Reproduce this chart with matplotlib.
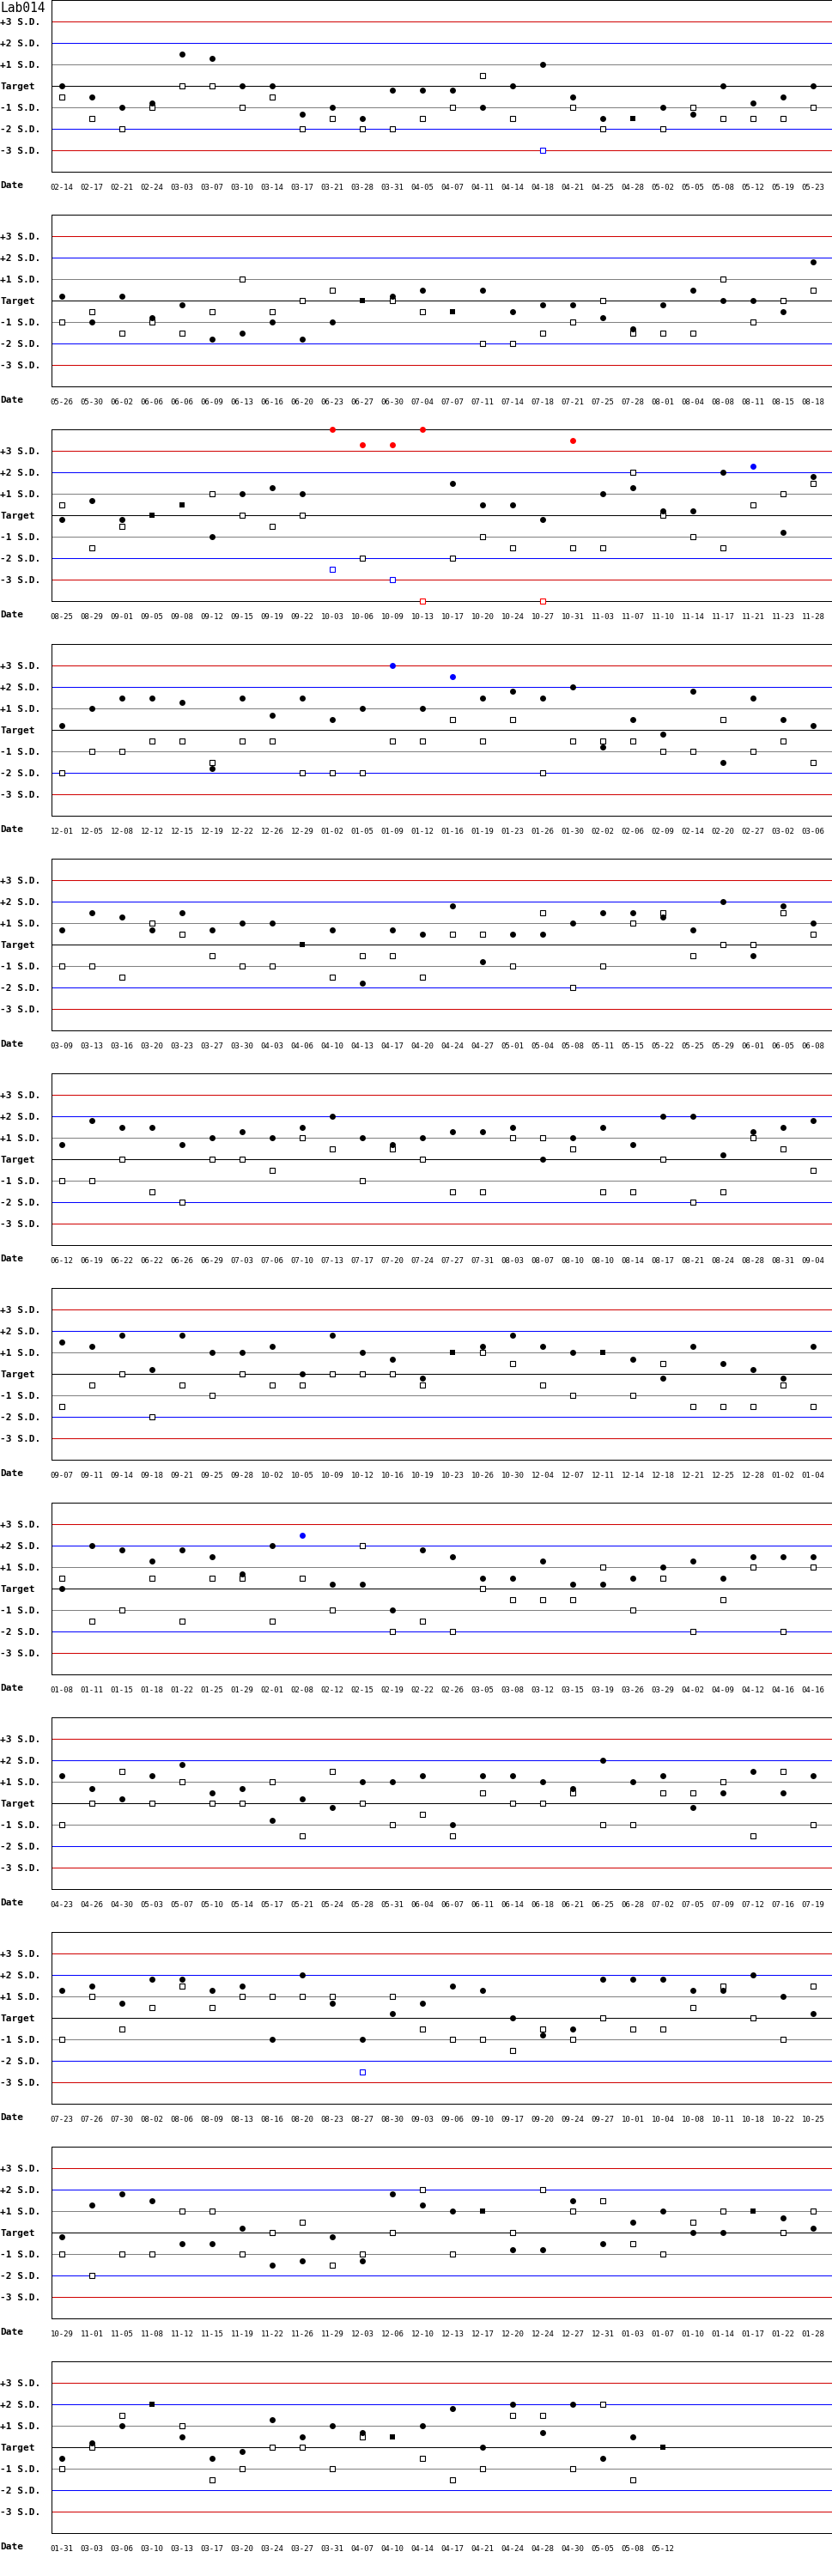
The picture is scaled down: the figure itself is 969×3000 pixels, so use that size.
import math

import matplotlib

matplotlib.use("Agg")
import matplotlib.pyplot as plt

plt.rcParams["font.family"] = ["DejaVu Sans Mono"]

TITLE = "Lab014"
SD_LEVELS = [3, 2, 1, 0, -1, -2, -3]
SD_LABELS = ["+3 S.D.", "+2 S.D.", "+1 S.D.", "Target", "-1 S.D.", "-2 S.D.", "-3 S.D."]
SD_COLORS = ["#d00000", "#0000ff", "#808080", "#000000", "#808080", "#0000ff", "#d00000"]

# run dates (MM-DD), 26 per row
DATES = [
    "02-14", "02-17", "02-21", "02-24", "03-03", "03-07", "03-10", "03-14", "03-17", "03-21", "03-28", "03-31", "04-05",
    "04-07", "04-11", "04-14", "04-18", "04-21", "04-25", "04-28", "05-02", "05-05", "05-08", "05-12", "05-19", "05-23",
    "05-26", "05-30", "06-02", "06-06", "06-06", "06-09", "06-13", "06-16", "06-20", "06-23", "06-27", "06-30", "07-04",
    "07-07", "07-11", "07-14", "07-18", "07-21", "07-25", "07-28", "08-01", "08-04", "08-08", "08-11", "08-15", "08-18",
    "08-25", "08-29", "09-01", "09-05", "09-08", "09-12", "09-15", "09-19", "09-22", "10-03", "10-06", "10-09", "10-13",
    "10-17", "10-20", "10-24", "10-27", "10-31", "11-03", "11-07", "11-10", "11-14", "11-17", "11-21", "11-23", "11-28",
    "12-01", "12-05", "12-08", "12-12", "12-15", "12-19", "12-22", "12-26", "12-29", "01-02", "01-05", "01-09", "01-12",
    "01-16", "01-19", "01-23", "01-26", "01-30", "02-02", "02-06", "02-09", "02-14", "02-20", "02-27", "03-02", "03-06",
    "03-09", "03-13", "03-16", "03-20", "03-23", "03-27", "03-30", "04-03", "04-06", "04-10", "04-13", "04-17", "04-20",
    "04-24", "04-27", "05-01", "05-04", "05-08", "05-11", "05-15", "05-22", "05-25", "05-29", "06-01", "06-05", "06-08",
    "06-12", "06-19", "06-22", "06-22", "06-26", "06-29", "07-03", "07-06", "07-10", "07-13", "07-17", "07-20", "07-24",
    "07-27", "07-31", "08-03", "08-07", "08-10", "08-10", "08-14", "08-17", "08-21", "08-24", "08-28", "08-31", "09-04",
    "09-07", "09-11", "09-14", "09-18", "09-21", "09-25", "09-28", "10-02", "10-05", "10-09", "10-12", "10-16", "10-19",
    "10-23", "10-26", "10-30", "12-04", "12-07", "12-11", "12-14", "12-18", "12-21", "12-25", "12-28", "01-02", "01-04",
    "01-08", "01-11", "01-15", "01-18", "01-22", "01-25", "01-29", "02-01", "02-08", "02-12", "02-15", "02-19", "02-22",
    "02-26", "03-05", "03-08", "03-12", "03-15", "03-19", "03-26", "03-29", "04-02", "04-09", "04-12", "04-16", "04-16",
    "04-23", "04-26", "04-30", "05-03", "05-07", "05-10", "05-14", "05-17", "05-21", "05-24", "05-28", "05-31", "06-04",
    "06-07", "06-11", "06-14", "06-18", "06-21", "06-25", "06-28", "07-02", "07-05", "07-09", "07-12", "07-16", "07-19",
    "07-23", "07-26", "07-30", "08-02", "08-06", "08-09", "08-13", "08-16", "08-20", "08-23", "08-27", "08-30", "09-03",
    "09-06", "09-10", "09-17", "09-20", "09-24", "09-27", "10-01", "10-04", "10-08", "10-11", "10-18", "10-22", "10-25",
    "10-29", "11-01", "11-05", "11-08", "11-12", "11-15", "11-19", "11-22", "11-26", "11-29", "12-03", "12-06", "12-10",
    "12-13", "12-17", "12-20", "12-24", "12-27", "12-31", "01-03", "01-07", "01-10", "01-14", "01-17", "01-22", "01-28",
    "01-31", "03-03", "03-06", "03-10", "03-13", "03-17", "03-20", "03-24", "03-27", "03-31", "04-07", "04-10", "04-14",
    "04-17", "04-21", "04-24", "04-28", "04-30", "05-05", "05-08", "05-12",
]

# control level 1 (dots), in S.D. from target
LEVEL1 = [
    0, -0.5, -1.0, -0.8, 1.5, 1.3, 0, 0, -1.3, -1.0, -1.5, -0.2, -0.2, -0.2, -1.0, 0, 1.0, -0.5, -1.5, -1.5, -1.0, -1.3, 0, -0.8, -0.5, 0,
    0.2, -1.0, 0.2, -0.8, -0.2, -1.8, -1.5, -1.0, -1.8, -1.0, 0, 0.2, 0.5, -0.5, 0.5, -0.5, -0.2, -0.2, -0.8, -1.3, -0.2, 0.5, 0, 0, -0.5, 1.8,
    -0.2, 0.7, -0.2, 0, 0.5, -1.0, 1.0, 1.3, 1.0, 4.0, 3.3, 3.3, 4.0, 1.5, 0.5, 0.5, -0.2, 3.5, 1.0, 1.3, 0.2, 0.2, 2.0, 2.3, -0.8, 1.8,
    0.2, 1.0, 1.5, 1.5, 1.3, -1.8, 1.5, 0.7, 1.5, 0.5, 1.0, 3.0, 1.0, 2.5, 1.5, 1.8, 1.5, 2.0, -0.8, 0.5, -0.2, 1.8, -1.5, 1.5, 0.5, 0.2,
    0.7, 1.5, 1.3, 0.7, 1.5, 0.7, 1.0, 1.0, 0, 0.7, -1.8, 0.7, 0.5, 1.8, -0.8, 0.5, 0.5, 1.0, 1.5, 1.5, 1.3, 0.7, 2.0, -0.5, 1.8, 1.0,
    0.7, 1.8, 1.5, 1.5, 0.7, 1.0, 1.3, 1.0, 1.5, 2.0, 1.0, 0.7, 1.0, 1.3, 1.3, 1.5, 0, 1.0, 1.5, 0.7, 2.0, 2.0, 0.2, 1.3, 1.5, 1.8,
    1.5, 1.3, 1.8, 0.2, 1.8, 1.0, 1.0, 1.3, 0, 1.8, 1.0, 0.7, -0.2, 1.0, 1.3, 1.8, 1.3, 1.0, 1.0, 0.7, -0.2, 1.3, 0.5, 0.2, -0.2, 1.3,
    0, 2.0, 1.8, 1.3, 1.8, 1.5, 0.7, 2.0, 2.5, 0.2, 0.2, -1.0, 1.8, 1.5, 0.5, 0.5, 1.3, 0.2, 0.2, 0.5, 1.0, 1.3, 0.5, 1.5, 1.5, 1.5,
    1.3, 0.7, 0.2, 1.3, 1.8, 0.5, 0.7, -0.8, 0.2, -0.2, 1.0, 1.0, 1.3, -1.0, 1.3, 1.3, 1.0, 0.7, 2.0, 1.0, 1.3, -0.2, 0.5, 1.5, 0.5, 1.3,
    1.3, 1.5, 0.7, 1.8, 1.8, 1.3, 1.5, -1.0, 2.0, 0.7, -1.0, 0.2, 0.7, 1.5, 1.3, 0, -0.8, -0.5, 1.8, 1.8, 1.8, 1.3, 1.3, 2.0, 1.0, 0.2,
    -0.2, 1.3, 1.8, 1.5, -0.5, -0.5, 0.2, -1.5, -1.3, -0.2, -1.3, 1.8, 1.3, 1.0, 1.0, -0.8, -0.8, 1.5, -0.5, 0.5, 1.0, 0, 0, 1.0, 0.7, 0.2,
    -0.5, 0.2, 1.0, 2.0, 0.5, -0.5, -0.2, 1.3, 0.5, 1.0, 0.7, 0.5, 1.0, 1.8, 0, 2.0, 0.7, 2.0, -0.5, 0.5, 0,
]

# control level 2 (open squares), in S.D. from target
LEVEL2 = [
    -0.5, -1.5, -2.0, -1.0, 0, 0, -1.0, -0.5, -2.0, -1.5, -2.0, -2.0, -1.5, -1.0, 0.5, -1.5, -3.0, -1.0, -2.0, -1.5, -2.0, -1.0, -1.5, -1.5, -1.5, -1.0,
    -1.0, -0.5, -1.5, -1.0, -1.5, -0.5, 1.0, -0.5, 0, 0.5, 0, 0, -0.5, -0.5, -2.0, -2.0, -1.5, -1.0, 0, -1.5, -1.5, -1.5, 1.0, -1.0, 0, 0.5,
    0.5, -1.5, -0.5, 0, 0.5, 1.0, 0, -0.5, 0, -2.5, -2.0, -3.0, -4.0, -2.0, -1.0, -1.5, -4.0, -1.5, -1.5, 2.0, 0, -1.0, -1.5, 0.5, 1.0, 1.5,
    -2.0, -1.0, -1.0, -0.5, -0.5, -1.5, -0.5, -0.5, -2.0, -2.0, -2.0, -0.5, -0.5, 0.5, -0.5, 0.5, -2.0, -0.5, -0.5, -0.5, -1.0, -1.0, 0.5, -1.0, -0.5, -1.5,
    -1.0, -1.0, -1.5, 1.0, 0.5, -0.5, -1.0, -1.0, 0, -1.5, -0.5, -0.5, -1.5, 0.5, 0.5, -1.0, 1.5, -2.0, -1.0, 1.0, 1.5, -0.5, 0, 0, 1.5, 0.5,
    -1.0, -1.0, 0, -1.5, -2.0, 0, 0, -0.5, 1.0, 0.5, -1.0, 0.5, 0, -1.5, -1.5, 1.0, 1.0, 0.5, -1.5, -1.5, 0, -2.0, -1.5, 1.0, 0.5, -0.5,
    -1.5, -0.5, 0, -2.0, -0.5, -1.0, 0, -0.5, -0.5, 0, 0, 0, -0.5, 1.0, 1.0, 0.5, -0.5, -1.0, 1.0, -1.0, 0.5, -1.5, -1.5, -1.5, -0.5, -1.5,
    0.5, -1.5, -1.0, 0.5, -1.5, 0.5, 0.5, -1.5, 0.5, -1.0, 2.0, -2.0, -1.5, -2.0, 0, -0.5, -0.5, -0.5, 1.0, -1.0, 0.5, -2.0, -0.5, 1.0, -2.0, 1.0,
    -1.0, 0, 1.5, 0, 1.0, 0, 0, 1.0, -1.5, 1.5, 0, -1.0, -0.5, -1.5, 0.5, 0, 0, 0.5, -1.0, -1.0, 0.5, 0.5, 1.0, -1.5, 1.5, -1.0,
    -1.0, 1.0, -0.5, 0.5, 1.5, 0.5, 1.0, 1.0, 1.0, 1.0, -2.5, 1.0, -0.5, -1.0, -1.0, -1.5, -0.5, -1.0, 0, -0.5, -0.5, 0.5, 1.5, 0, -1.0, 1.5,
    -1.0, -2.0, -1.0, -1.0, 1.0, 1.0, -1.0, 0, 0.5, -1.5, -1.0, 0, 2.0, -1.0, 1.0, 0, 2.0, 1.0, 1.5, -0.5, -1.0, 0.5, 1.0, 1.0, 0, 1.0,
    -1.0, 0, 1.5, 2.0, 1.0, -1.5, -1.0, 0, 0, -1.0, 0.5, 0.5, -0.5, -1.5, -1.0, 1.5, 1.5, -1.0, 2.0, -1.5, 0,
]

PER_ROW = 26

# layout in pixels
W, H, DPI = 970, 3000, 100
ROW_H = 250
AX_L, AX_W, AX_H = 60, 909, 200
STEP = 35
FIRST = 12
LW = 72 / DPI  # one pixel


def point_color(v):
    if abs(v) > 3:
        return "#ff0000"
    if abs(v) > 2:
        return "#0000ff"
    return "#000000"


fig = plt.figure(figsize=(W / DPI, H / DPI), dpi=DPI)
fig.text(0, 1 - 13.5 / H, TITLE, fontsize=10.5, va="baseline", ha="left")

n_rows = math.ceil(len(DATES) / PER_ROW)
for r in range(n_rows):
    top = r * ROW_H
    ax = fig.add_axes([AX_L / W, 1 - (top + AX_H) / H, AX_W / W, AX_H / H])
    x0 = -FIRST / STEP
    ax.set_xlim(x0, x0 + AX_W / STEP)
    ax.set_ylim(-4, 4)
    ax.set_xticks([])
    ax.set_yticks([])
    for sp in ax.spines.values():
        sp.set_linewidth(LW)
        sp.set_color("black")

    # S.D. lines and labels
    for lvl, lab, col in zip(SD_LEVELS, SD_LABELS, SD_COLORS):
        ax.axhline(lvl, color=col, lw=LW, zorder=1)
        ax.text(-AX_L / AX_W, lvl - 0.17, lab, transform=ax.get_yaxis_transform(),
                fontsize=8, fontweight="bold", ha="left", va="baseline")
    ax.text(-AX_L / AX_W, -19 / AX_H, "Date", transform=ax.transAxes,
            fontsize=8, fontweight="bold", ha="left", va="baseline")

    dates = DATES[r * PER_ROW:(r + 1) * PER_ROW]
    l1 = LEVEL1[r * PER_ROW:(r + 1) * PER_ROW]
    l2 = LEVEL2[r * PER_ROW:(r + 1) * PER_ROW]
    for i, (d, c, s) in enumerate(zip(dates, l1, l2)):
        ax.text(i, -20.7 / AX_H, d, transform=ax.get_xaxis_transform(),
                fontsize=6.5, ha="center", va="baseline")
        if c == s:
            # both levels on the same value
            col = point_color(c)
            ax.plot(i, c, marker="s", ms=4.8, mfc=col, mec=col, mew=0, clip_on=False, zorder=4)
            continue
        col2 = point_color(s)
        ax.plot(i, s, marker="s", ms=4.0, mfc="white", mec=col2, mew=0.8, clip_on=False, zorder=3)
        col1 = point_color(c)
        ax.plot(i, c, marker="o", ms=5.0, mfc=col1, mec=col1, mew=0, clip_on=False, zorder=4)

fig.savefig("out.png", dpi=DPI)
